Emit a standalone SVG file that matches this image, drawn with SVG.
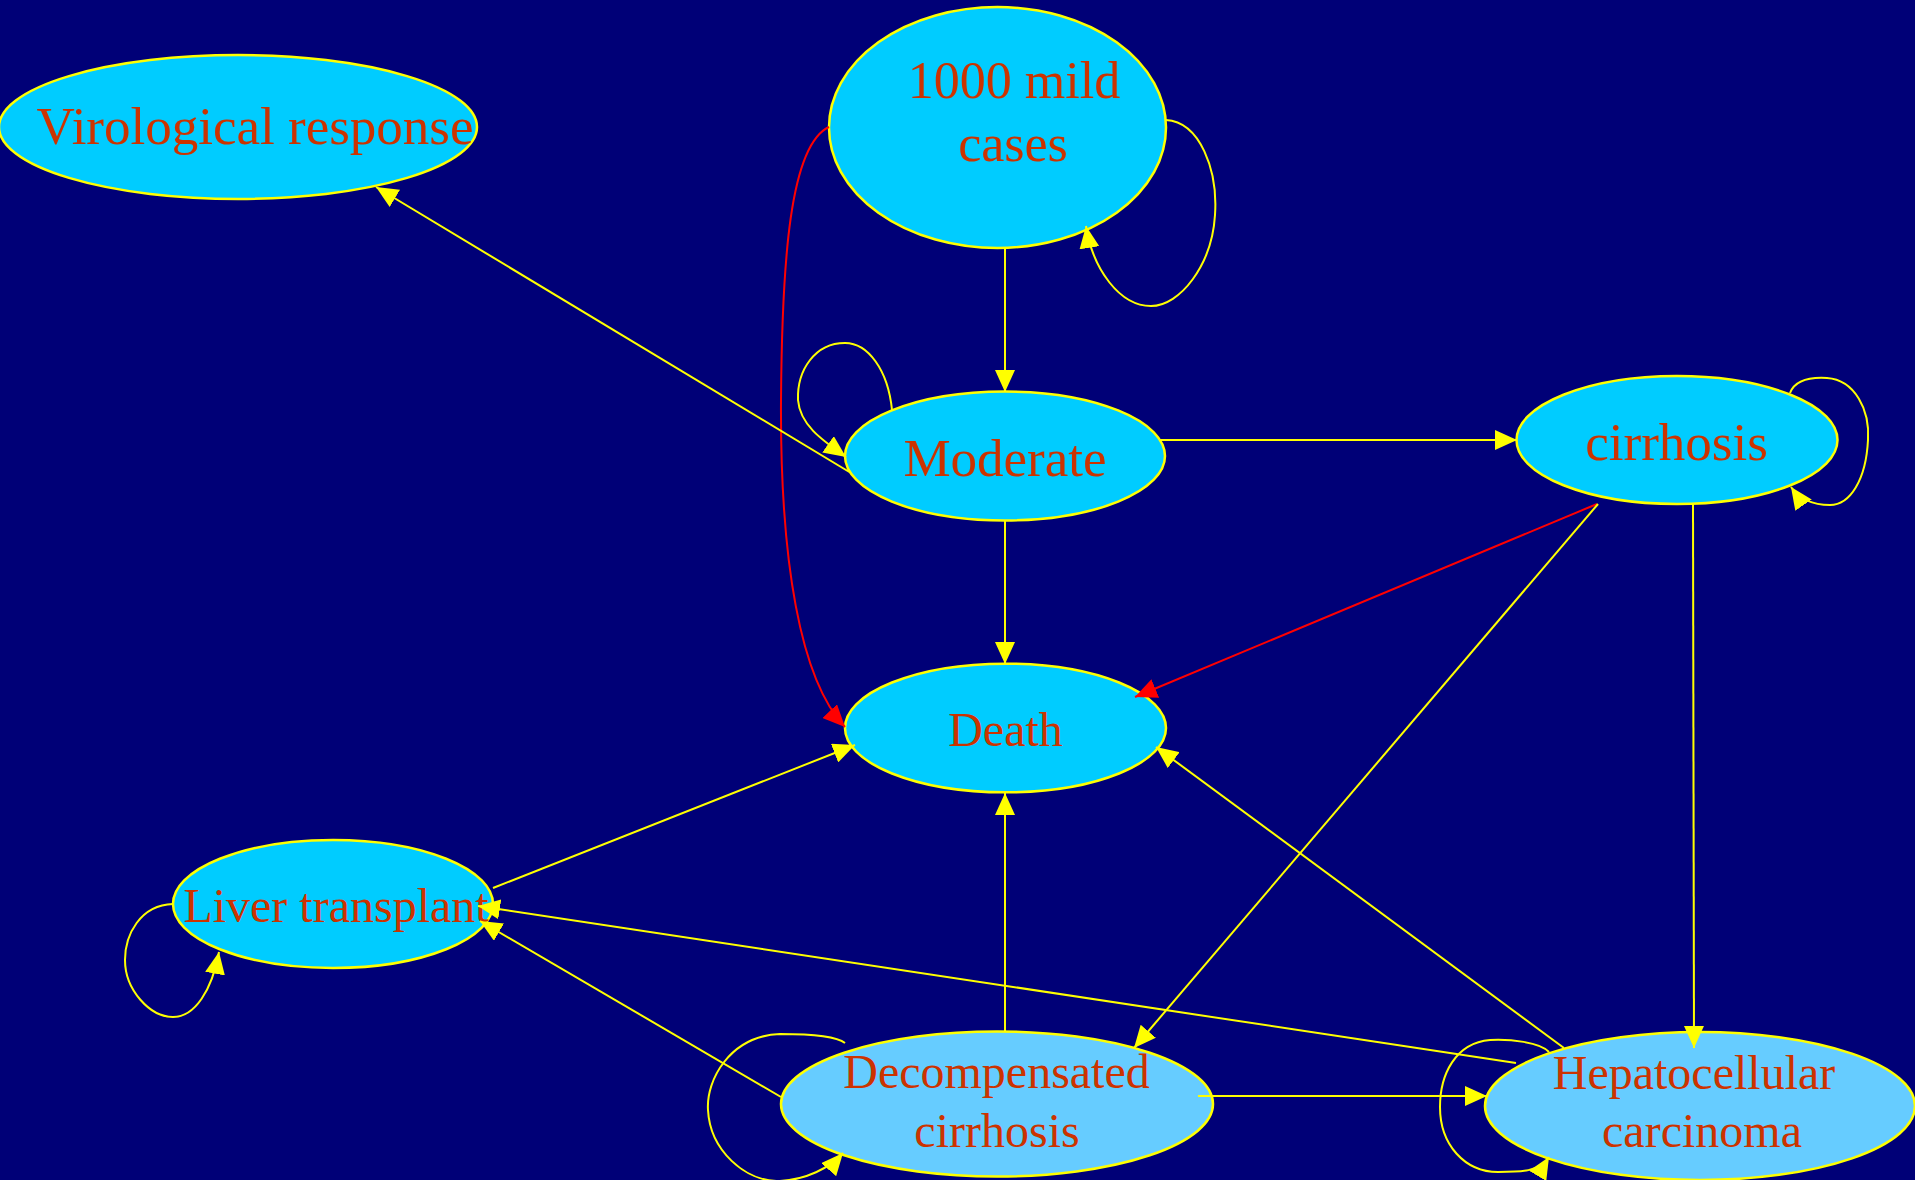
<svg xmlns="http://www.w3.org/2000/svg" width="1915" height="1180" viewBox="0 0 1915 1180">
<style>
.n ellipse{fill:#00CCFF;stroke:#FFFF00;stroke-width:2.5}
.n.l ellipse{fill:#66CCFF}
.n text{font-family:"Liberation Serif","Times New Roman",serif;fill:#CC3300;text-anchor:middle}
.e path{fill:none;stroke:#FFFF00;stroke-width:2}
.e path.r{stroke:#FF0000}
</style>
<defs>
<marker id="ay" markerUnits="userSpaceOnUse" markerWidth="23" markerHeight="20" refX="22" refY="10" orient="auto" viewBox="0 0 23 20">
<path d="M0,0 L22,10 L0,20 z" fill="#FFFF00"/>
</marker>
<marker id="ar" markerUnits="userSpaceOnUse" markerWidth="23" markerHeight="20" refX="22" refY="10" orient="auto" viewBox="0 0 23 20">
<path d="M0,0 L22,10 L0,20 z" fill="#FF0000"/>
</marker>
</defs>
<rect x="0" y="0" width="1915" height="1180" fill="#000077"/>

<g id="virological" class="n"><ellipse cx="238" cy="127" rx="239" ry="72"/><text x="255" y="144" font-size="53">Virological response</text></g>
<g id="mild" class="n"><ellipse cx="997.5" cy="127.5" rx="168.5" ry="120.5"/><text x="1014" y="97.7" font-size="52">1000 mild</text><text x="1013" y="161" font-size="52">cases</text></g>
<g id="moderate" class="n"><ellipse cx="1005" cy="456" rx="160" ry="64.5"/><text x="1005" y="475.7" font-size="53">Moderate</text></g>
<g id="cirrhosis" class="n"><ellipse cx="1677" cy="440" rx="160.5" ry="64"/><text x="1676.5" y="460" font-size="53">cirrhosis</text></g>
<g id="death" class="n"><ellipse cx="1005.5" cy="728" rx="160.5" ry="64.3"/><text x="1005.5" y="746" font-size="48">Death</text></g>
<g id="liver" class="n"><ellipse cx="333" cy="904" rx="160" ry="64"/><text x="336" y="921.7" font-size="48">Liver transplant</text></g>
<g id="decomp" class="n l"><ellipse cx="997" cy="1104" rx="216" ry="72.5"/><text x="996.5" y="1088" font-size="48">Decompensated</text><text x="997" y="1146.7" font-size="48">cirrhosis</text></g>
<g id="hcc" class="n l"><ellipse cx="1700" cy="1106" rx="215" ry="74"/><text x="1694" y="1089" font-size="48">Hepatocellular</text><text x="1702" y="1146.7" font-size="48">carcinoma</text></g>

<g id="edges" class="e">
<path d="M1005,248 L1005,392" marker-end="url(#ay)"/>
<path class="r" d="M829,127 C790,145 782,260 781,400 C780,560 800,680 845,727" marker-end="url(#ar)"/>
<path d="M851,473 L376,187" marker-end="url(#ay)"/>
<path d="M1159,440 L1517,440" marker-end="url(#ay)"/>
<path d="M1005,521 L1005,664" marker-end="url(#ay)"/>
<path class="r" d="M1597,504 L1135,697" marker-end="url(#ar)"/>
<path d="M1598,504 L1134,1048" marker-end="url(#ay)"/>
<path d="M1693,504 L1694,1048" marker-end="url(#ay)"/>
<path d="M493,888 L855,745" marker-end="url(#ay)"/>
<path d="M781,1097 L480,921" marker-end="url(#ay)"/>
<path d="M1005,1032 L1005,793" marker-end="url(#ay)"/>
<path d="M1198,1096 L1487,1096" marker-end="url(#ay)"/>
<path d="M1516,1063 L478,906" marker-end="url(#ay)"/>
<path d="M1564,1048 L1156,747" marker-end="url(#ay)"/>
<path d="M1166,120 C1200,122 1218,170 1215,215 C1212,265 1180,306 1151,306 C1120,306 1093,270 1086,226" marker-end="url(#ay)"/>
<path d="M892,410 C888,370 868,343 845,343 C815,343 797,370 798,400 C800,425 822,440 846,457" marker-end="url(#ay)"/>
<path d="M1790,393 C1795,380 1810,377 1827,378 C1855,380 1870,410 1868,440 C1866,480 1850,505 1830,505 C1815,505 1800,500 1791,487" marker-end="url(#ay)"/>
<path d="M173,904 C140,905 125,935 125,960 C125,990 150,1017 173,1017 C195,1017 212,990 219,952" marker-end="url(#ay)"/>
<path d="M845,1043 C835,1035 800,1034 780,1034 C730,1036 706,1080 708,1110 C710,1150 745,1182 780,1181 C805,1180 830,1168 843,1153" marker-end="url(#ay)"/>
<path d="M1549,1052 C1540,1042 1510,1039 1490,1040 C1455,1043 1440,1075 1440,1107 C1440,1145 1465,1172 1498,1172 C1520,1172 1540,1172 1549,1157" marker-end="url(#ay)"/>
</g>
</svg>
